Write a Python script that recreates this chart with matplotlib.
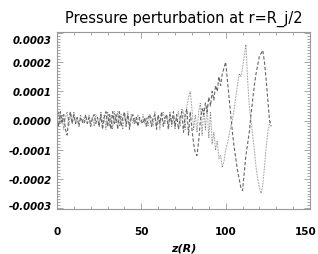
import numpy as np
import matplotlib
matplotlib.use("Agg")
import matplotlib.pyplot as plt
import matplotlib.transforms as mtransforms
from matplotlib.ticker import MultipleLocator, FixedLocator

# z positions (R)
z = list(range(0, 128))

# pressure perturbation, units of 1e-5
dashed_vals = [
    1, -2, 3, -1, 2, -3, -5, 1, 3, -1,
    2, -1, 1, -2, 1, 0, -1, 2, -1, 1,
    -2, 1, 2, -1, 1, -2, 2, -3, 1, 3,
    -2, 2, -3, 3, -1, 2, -3, 3, -2, 1,
    3, -2, 2, -3, 1, 2, -1, 1, -2, 1,
    0, -1, 1, -2, 1, 2, -2, 1, 2, -3,
    2, -1, 3, -2, 1, 2, -3, 2, -1, 3,
    -2, 2, -3, 1, 3, -4, 2, 4, -5, 3,
    -3, -8, -11, -12, -7, 0, 4, 2, 6, 3,
    8, 5, 10, 7, 12, 10, 15, 12, 16, 18,
    20, 14, 8, 2, -4, -9, -13, -17, -20, -23,
    -24, -18, -12, -8, -4, 2, 7, 12, 16, 19,
    22, 23, 24, 20, 14, 7, 0, -2,
]
dotted_vals = [
    -2, 3, -1, 2, -3, 1, 3, -2, 2, -1,
    3, -1, 1, -1, 2, -1, 1, 0, -1, 2,
    -1, 1, -2, 2, 1, -2, 3, -1, 2, -3,
    3, -2, 2, -3, 3, -1, 3, -2, 2, -3,
    2, -1, 3, -2, 2, -1, 1, -1, 2, 0,
    -1, 2, -1, 1, -2, 2, 1, -2, 3, -2,
    1, -3, 2, 3, -1, 2, -2, 3, -2, 1,
    -3, 2, 3, -2, 4, 3, -3, 5, 8, 10,
    4, -3, 2, -4, 3, 6, -5, 4, -3, 5,
    -6, 3, -8, -4, -10, -7, -13, -12, -16, -14,
    -10, -8, -5, -2, 0, 4, 8, 12, 16, 15,
    18, 22, 26, 14, 5, 0, -5, -10, -16, -20,
    -23, -25, -22, -16, -9, -4, -1, 0,
]

xticks = [0, 50, 100, 150]
xticklabels = ["0", "50", "100", "150"]
yticks = [-0.0003, -0.0002, -0.0001, 0.0, 0.0001, 0.0002, 0.0003]
yticklabels = ["-0.0003", "-0.0002", "-0.0001", "0.0000", "0.0001", "0.0002", "0.0003"]

zz = np.array(z, dtype=float)
dashed = np.array(dashed_vals, dtype=float) * 1e-5
dotted = np.array(dotted_vals, dtype=float) * 1e-5

W, H = 318, 255
fig = plt.figure(figsize=(W / 100, H / 100), dpi=100)
ax = fig.add_axes([57 / W, 45 / H, 253 / W, 177 / H])

ax.plot(zz, dotted, color="#777777", lw=0.75, linestyle=(0, (0.6, 0.9)))
ax.plot(zz, dashed, color="#666666", lw=0.8, linestyle=(0, (3.0, 1.8)))

ax.set_xlim(0, 150)
ax.set_ylim(-0.000303, 0.000303)

ax.xaxis.set_major_locator(FixedLocator(xticks))
ax.xaxis.set_minor_locator(MultipleLocator(10))
ax.yaxis.set_major_locator(FixedLocator(yticks))
ax.yaxis.set_minor_locator(MultipleLocator(0.00001))

ax.set_xticklabels(xticklabels, fontfamily="DejaVu Sans",
                   fontweight="bold", fontsize=7.5)
ax.set_yticklabels(yticklabels, fontfamily="DejaVu Sans", fontweight="bold",
                   fontstyle="italic", fontsize=7.3)

ax.tick_params(axis="both", which="both", direction="in", top=True, right=True,
               color="#999999", width=0.6)
ax.tick_params(axis="both", which="major", length=4)
ax.tick_params(axis="both", which="minor", length=2)
ax.tick_params(axis="x", which="major", pad=12)
ax.tick_params(axis="y", which="major", pad=4)

# nudge the last x label so it stays inside the canvas
last = ax.get_xticklabels()[-1]
last.set_transform(last.get_transform() +
                   mtransforms.ScaledTranslation(-4 / 100, 0, fig.dpi_scale_trans))

# end y labels sit slightly inside the frame, as in the reference
ylabs = ax.get_yticklabels()
ylabs[0].set_transform(ylabs[0].get_transform() +
                       mtransforms.ScaledTranslation(0, 3 / 100, fig.dpi_scale_trans))
ylabs[-1].set_transform(ylabs[-1].get_transform() +
                        mtransforms.ScaledTranslation(0, -6 / 100, fig.dpi_scale_trans))

for s in ax.spines.values():
    s.set_color("#999999")
    s.set_linewidth(0.8)

ax.set_title("Pressure perturbation at r=R_j/2", fontfamily="DejaVu Sans",
             fontsize=10.5, pad=7)
ax.set_xlabel("z(R)", fontfamily="DejaVu Sans", fontweight="bold",
              fontstyle="italic", fontsize=8, labelpad=5)

fig.savefig("out.png", dpi=100)
